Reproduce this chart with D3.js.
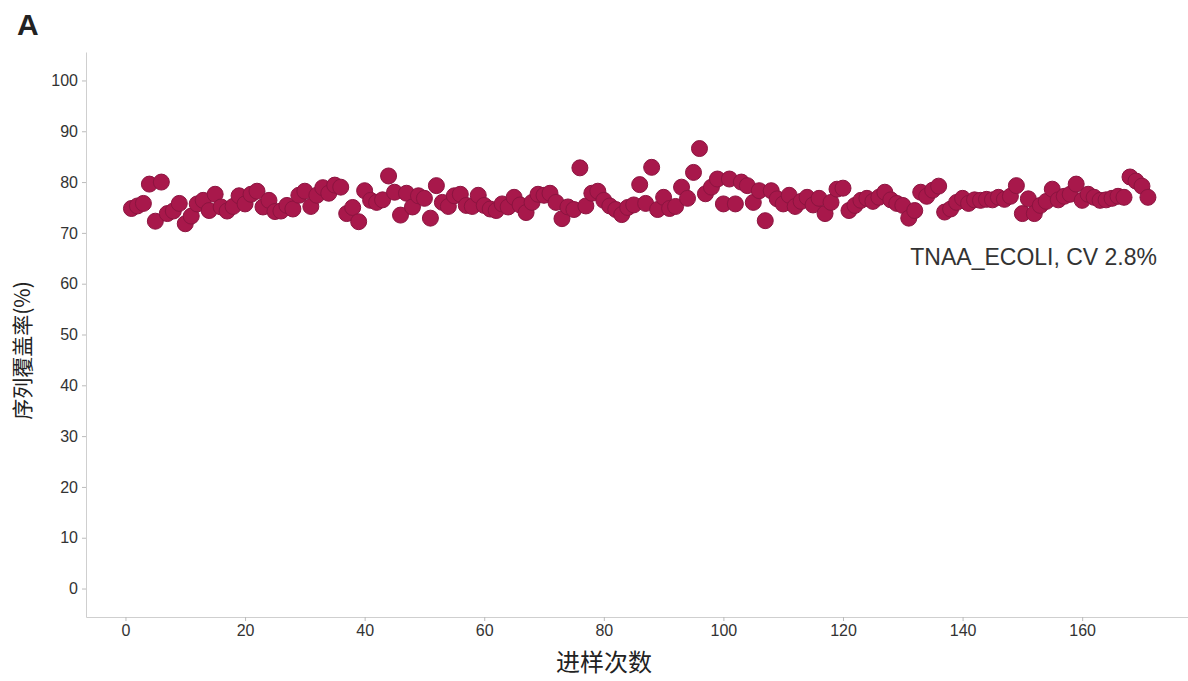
<!DOCTYPE html>
<html>
<head>
<meta charset="utf-8">
<script src="https://cdn.jsdelivr.net/npm/d3@7"></script>
<style>
  html, body { margin: 0; padding: 0; background: #fff; }
  svg { display: block; }
  .tick text { font-family: "Liberation Sans", Arial, sans-serif; font-size: 16px; fill: #333; }
</style>
</head>
<body>
<svg id="chart" width="1188" height="681"></svg>
<script>
// Injection index (1..171) and sequence coverage (%) per run
const runs = d3.range(1, 172);
const coverage = [
  74.8, 75.3, 75.8, 79.6, 72.3, 80.0, 73.8, 74.3, 75.8, 71.8,
  73.3, 75.7, 76.4, 74.4, 77.6, 75.1, 74.3, 75.2, 77.3, 75.7,
  77.6, 78.2, 75.1, 76.4, 74.2, 74.3, 75.4, 74.7, 77.4, 78.2,
  75.2, 77.4, 78.9, 77.8, 79.4, 79.0, 73.8, 75.0, 72.2, 78.3,
  76.4, 76.0, 76.5, 81.2, 78.0, 73.5, 77.8, 75.1, 77.3, 76.8,
  72.9, 79.3, 76.0, 75.2, 77.3, 77.6, 75.4, 75.2, 77.4, 75.4,
  74.7, 74.4, 75.7, 75.1, 77.0, 75.5, 74.0, 76.0, 77.6, 77.4,
  77.8, 76.0, 72.8, 75.1, 74.6, 82.8, 75.3, 77.8, 78.2, 76.4,
  75.3, 74.6, 73.6, 75.0, 75.5, 79.5, 75.8, 82.9, 74.6, 77.0,
  74.8, 75.2, 79.0, 76.8, 81.9, 86.6, 77.7, 79.0, 80.6, 75.7,
  80.6, 75.7, 80.0, 79.3, 76.0, 78.3, 72.4, 78.3, 76.7, 75.7,
  77.4, 75.2, 76.2, 77.0, 75.5, 76.8, 73.8, 76.0, 78.6, 78.8,
  74.4, 75.4, 76.4, 76.8, 76.2, 77.0, 78.0, 76.5, 75.8, 75.4,
  72.9, 74.4, 78.0, 77.2, 78.4, 79.2, 74.1, 74.7, 76.0, 76.8,
  75.8, 76.5, 76.4, 76.6, 76.5, 77.0, 76.6, 77.2, 79.3, 73.8,
  76.7, 73.8, 75.4, 76.2, 78.6, 76.5, 77.2, 77.6, 79.6, 76.4,
  77.6, 77.0, 76.4, 76.5, 76.8, 77.2, 77.0, 81.0, 80.2, 79.2,
  77.0
];
const xTicks = [0, 20, 40, 60, 80, 100, 120, 140, 160];
const yTicks = [0, 10, 20, 30, 40, 50, 60, 70, 80, 90, 100];

const panelLabel = "A";
const xTitle = "进样次数";
const yTitle = "序列覆盖率(%)";
const note = "TNAA_ECOLI, CV 2.8%";

const svg = d3.select("#chart");
const plotLeft = 86, plotRight = 1188, plotTop = 52, plotBottom = 617;

const x = d3.scaleLinear().domain([-6.6, 177.7]).range([plotLeft, plotRight]);
const y = d3.scaleLinear().domain([-5.6, 105.6]).range([plotBottom, plotTop]);

const axisColor = "#cfcfcf";

// y axis
const gy = svg.append("g")
  .attr("transform", `translate(${plotLeft},0)`)
  .call(d3.axisLeft(y).tickValues(yTicks).tickSize(4).tickSizeOuter(0).tickPadding(4));
gy.select(".domain").attr("stroke", axisColor);
gy.selectAll(".tick line").attr("stroke", "#bbb");

// x axis
const gx = svg.append("g")
  .attr("transform", `translate(0,${plotBottom})`)
  .call(d3.axisBottom(x).tickValues(xTicks).tickSize(4).tickSizeOuter(0).tickPadding(4));
gx.select(".domain").attr("stroke", axisColor);
gx.selectAll(".tick line").attr("stroke", "#bbb");

// points
svg.append("g")
  .selectAll("circle")
  .data(runs.map((r, i) => ({ run: r, value: coverage[i] })))
  .join("circle")
  .attr("cx", d => x(d.run))
  .attr("cy", d => y(d.value))
  .attr("r", 8)
  .attr("fill", "#a8184b")
  .attr("stroke", "#8c1440")
  .attr("stroke-width", 1);

// annotation
svg.append("text")
  .attr("x", 1157).attr("y", 265)
  .attr("text-anchor", "end")
  .style("font-family", "'Liberation Sans', Arial, sans-serif")
  .style("font-size", "23px")
  .style("fill", "#333")
  .text(note);

// panel label
svg.append("text")
  .attr("x", 17).attr("y", 35)
  .style("font-family", "'Liberation Sans', Arial, sans-serif")
  .style("font-size", "30px")
  .style("font-weight", "bold")
  .style("fill", "#222")
  .text(panelLabel);

// axis titles
svg.append("text")
  .attr("x", 604).attr("y", 671)
  .attr("text-anchor", "middle")
  .style("font-family", "'Noto Sans CJK SC', sans-serif")
  .style("font-size", "24px")
  .style("fill", "#222")
  .text(xTitle);

svg.append("text")
  .attr("transform", `translate(30,${(plotTop + plotBottom) / 2 + 16}) rotate(-90)`)
  .attr("text-anchor", "middle")
  .style("font-family", "'Noto Sans CJK SC', sans-serif")
  .style("font-size", "21px")
  .style("fill", "#222")
  .text(yTitle);
</script>
</body>
</html>
